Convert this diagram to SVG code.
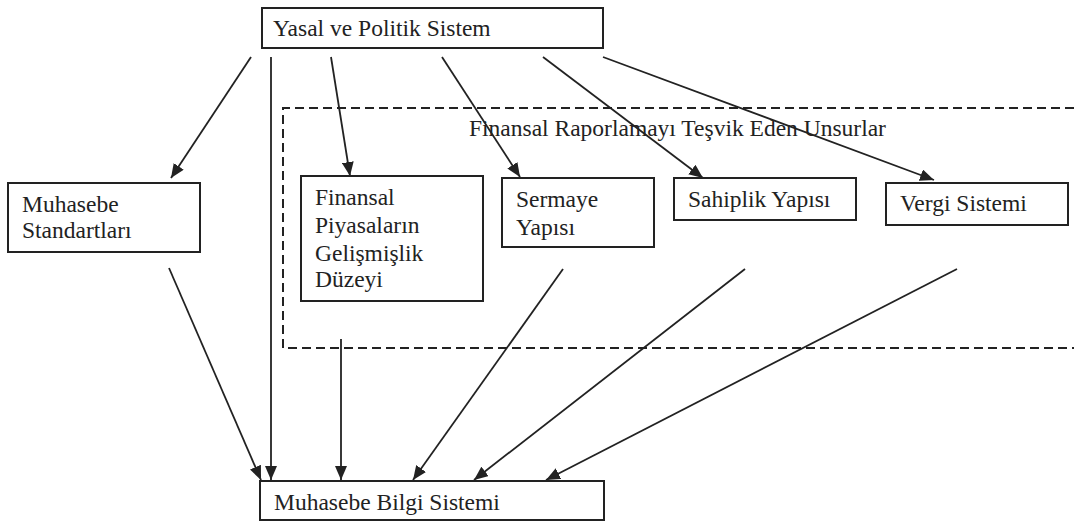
<svg xmlns="http://www.w3.org/2000/svg" width="1074" height="523" viewBox="0 0 1074 523" font-family="Liberation Serif, DejaVu Serif, serif">
<style>
.box{fill:#fff;stroke:#222;stroke-width:2}
.t{font-size:23.5px;fill:#222}
.c{stroke:#222;stroke-width:1.8;fill:none;marker-end:url(#ah)}
.dash{fill:none;stroke:#222;stroke-width:2;stroke-dasharray:9,5}
</style>
<defs>
<marker id="ah" viewBox="0 0 14 12" refX="14" refY="6" markerWidth="14" markerHeight="12" markerUnits="userSpaceOnUse" orient="auto">
<path d="M0,0 L14,6 L0,12 Z" fill="#222"/>
</marker>
</defs>
<rect width="1074" height="523" fill="#fff"/>
<g id="group-frame">
<polyline class="dash" points="1074,108 283,108 283,348 1074,348"/>
<text class="t" x="469" y="136" font-family="Liberation Serif, serif">Finansal Raporlamayı Teşvik Eden Unsurlar</text>
</g>
<g id="connectors">
<line class="c" x1="251" y1="57" x2="171" y2="178"/>
<line class="c" x1="271" y1="57" x2="271" y2="480"/>
<line class="c" x1="331" y1="57" x2="350" y2="176"/>
<line class="c" x1="442" y1="57" x2="520" y2="177"/>
<line class="c" x1="543" y1="57" x2="703" y2="178"/>
<line class="c" x1="603" y1="57" x2="934" y2="180"/>
<line class="c" x1="169" y1="268" x2="261" y2="480"/>
<line class="c" x1="341" y1="339" x2="341" y2="480"/>
<line class="c" x1="563" y1="269" x2="413" y2="480"/>
<line class="c" x1="745" y1="269" x2="474" y2="480"/>
<line class="c" x1="957" y1="269" x2="546" y2="480"/>
</g>
<g id="node-yasal">
<rect class="box" x="262" y="8" width="341" height="40"/>
<text class="t" x="273" y="36">Yasal ve Politik Sistem</text>
</g>
<g id="node-standartlar">
<rect class="box" x="8" y="183" width="192" height="69"/>
<text class="t" x="22" y="212">Muhasebe</text>
<text class="t" x="22" y="238">Standartları</text>
</g>
<g id="node-finansal">
<rect class="box" x="301" y="176" width="182" height="125"/>
<text class="t" x="315" y="205">Finansal</text>
<text class="t" x="315" y="233">Piyasaların</text>
<text class="t" x="315" y="261">Gelişmişlik</text>
<text class="t" x="315" y="287">Düzeyi</text>
</g>
<g id="node-sermaye">
<rect class="box" x="502" y="178" width="152" height="69"/>
<text class="t" x="516" y="207">Sermaye</text>
<text class="t" x="516" y="235">Yapısı</text>
</g>
<g id="node-sahiplik">
<rect class="box" x="674" y="178" width="182" height="42"/>
<text class="t" x="688" y="207">Sahiplik Yapısı</text>
</g>
<g id="node-vergi">
<rect class="box" x="886" y="183" width="182" height="42"/>
<text class="t" x="900" y="211">Vergi Sistemi</text>
</g>
<g id="node-mbs">
<rect class="box" x="260" y="481" width="344" height="39"/>
<text class="t" x="274" y="510">Muhasebe Bilgi Sistemi</text>
</g>
</svg>
